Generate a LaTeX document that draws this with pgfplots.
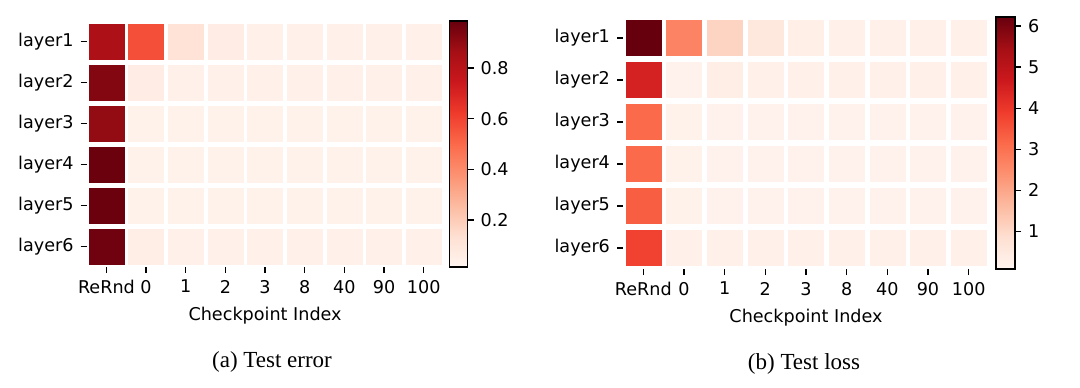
\documentclass[border=0pt]{standalone}
\usepackage{fontspec}
\setmainfont{DejaVu Sans}
\newfontfamily\capfont{Liberation Serif}
\usepackage{pgfplots}
\pgfplotsset{compat=1.18}

\pgfplotsset{
  colormap={reds}{rgb255=(255,245,240) rgb255=(254,224,210) rgb255=(252,187,161)
    rgb255=(252,146,114) rgb255=(251,106,74) rgb255=(239,59,44)
    rgb255=(203,24,29) rgb255=(165,15,21) rgb255=(103,0,13)},
  heat/.style={
    scale only axis,
    anchor=north west,
    enlargelimits=false,
    xmin=-0.5, xmax=8.5, ymin=-0.5, ymax=5.5,
    axis x line*=bottom, axis y line*=left,
    axis line style={draw=none},
    xtick={0,...,8}, xticklabels={ReRnd,0,1,2,3,8,40,90,100},
    % layer1 sits at the top (y=5)
    ytick={0,...,5}, yticklabels={layer6,layer5,layer4,layer3,layer2,layer1},
    tick align=outside, major tick length=3pt,
    tick style={black, line width=0.6pt},
    tick label style={font=\fontsize{8.8}{10}\selectfont},
    label style={font=\fontsize{8.8}{10}\selectfont},
    xlabel={Checkpoint Index},
    colormap name=reds,
  },
  cbar/.style={
    scale only axis,
    anchor=north west,
    enlargelimits=false,
    axis on top,
    xmin=0, xmax=1, xtick=\empty,
    ytick pos=right, yticklabel pos=right,
    axis line style={draw=black, line width=0.7pt},
    tick align=outside, major tick length=3pt,
    tick style={black, line width=0.6pt},
    tick label style={font=\fontsize{8.8}{10}\selectfont},
    /pgf/number format/assume math mode=true,
    colormap name=reds,
  },
  cells/.style={scatter, only marks, mark=square*, mark size=8.75pt,
    scatter/use mapped color={draw=mapped color, fill=mapped color},
    mark options={line width=0.1pt}, point meta=explicit},
}

\begin{document}
\begin{tikzpicture}
\useasboundingbox (0,0) rectangle (540pt,-193.5pt);

% (a) test error
\begin{axis}[heat, name=ea, at={(43.3pt,-10.5pt)}, width=178.5pt, height=123pt,
  point meta min=0.015, point meta max=0.985]
\addplot[cells] table[meta=c] {
x y c
0 5 0.84
1 5 0.57
2 5 0.12
3 5 0.06
4 5 0.045
5 5 0.04
6 5 0.04
7 5 0.04
8 5 0.04
0 4 0.93
1 4 0.06
2 4 0.045
3 4 0.045
4 4 0.04
5 4 0.04
6 4 0.04
7 4 0.04
8 4 0.04
0 3 0.90
1 3 0.035
2 3 0.035
3 3 0.035
4 3 0.035
5 3 0.035
6 3 0.035
7 3 0.035
8 3 0.035
0 2 0.98
1 2 0.035
2 2 0.035
3 2 0.035
4 2 0.035
5 2 0.035
6 2 0.035
7 2 0.035
8 2 0.035
0 1 0.98
1 1 0.035
2 1 0.035
3 1 0.035
4 1 0.035
5 1 0.035
6 1 0.035
7 1 0.035
8 1 0.035
0 0 0.97
1 0 0.055
2 0 0.04
3 0 0.04
4 0 0.04
5 0 0.04
6 0 0.04
7 0 0.04
8 0 0.04
};
\end{axis}
\begin{axis}[cbar, at={(ea.north east)}, xshift=3pt, width=9pt, height=123pt,
  ymin=0.015, ymax=0.985, point meta min=0.015, point meta max=0.985,
  ytick={0.2,0.4,0.6,0.8},
  yticklabel style={/pgf/number format/fixed, /pgf/number format/precision=1,
    /pgf/number format/fixed zerofill}]
\addplot[patch, patch type=rectangle, shader=interp, point meta=y]
  coordinates {(0,0.015) (1,0.015) (1,0.985) (0,0.985)};
\end{axis}

% (b) test loss
\begin{axis}[heat, name=eb, at={(311.5pt,-8.5pt)}, width=183pt, height=126pt,
  point meta min=0.08, point meta max=6.22]
\addplot[cells] table[meta=c] {
x y c
0 5 6.22
1 5 2.66
2 5 1.12
3 5 0.55
4 5 0.30
5 5 0.27
6 5 0.27
7 5 0.27
8 5 0.27
0 4 4.50
1 4 0.22
2 4 0.33
3 4 0.27
4 4 0.25
5 4 0.25
6 4 0.25
7 4 0.25
8 4 0.25
0 3 3.15
1 3 0.20
2 3 0.22
3 3 0.22
4 3 0.22
5 3 0.22
6 3 0.22
7 3 0.22
8 3 0.22
0 2 3.15
1 2 0.20
2 2 0.22
3 2 0.22
4 2 0.22
5 2 0.22
6 2 0.22
7 2 0.22
8 2 0.22
0 1 3.35
1 1 0.20
2 1 0.22
3 1 0.22
4 1 0.22
5 1 0.22
6 1 0.22
7 1 0.22
8 1 0.22
0 0 3.80
1 0 0.24
2 0 0.24
3 0 0.24
4 0 0.24
5 0 0.24
6 0 0.24
7 0 0.24
8 0 0.24
};
\end{axis}
\begin{axis}[cbar, at={(eb.north east)}, xshift=3.5pt, width=9.5pt, height=126pt,
  ymin=0.08, ymax=6.22, point meta min=0.08, point meta max=6.22,
  ytick={1,2,3,4,5,6}]
\addplot[patch, patch type=rectangle, shader=interp, point meta=y]
  coordinates {(0,0.08) (1,0.08) (1,6.22) (0,6.22)};
\end{axis}

\node[font=\capfont\fontsize{11.5}{13}\selectfont] at (136pt,-181pt) {(a) Test error};
\node[font=\capfont\fontsize{11.5}{13}\selectfont] at (402pt,-182pt) {(b) Test loss};
\end{tikzpicture}
\end{document}
